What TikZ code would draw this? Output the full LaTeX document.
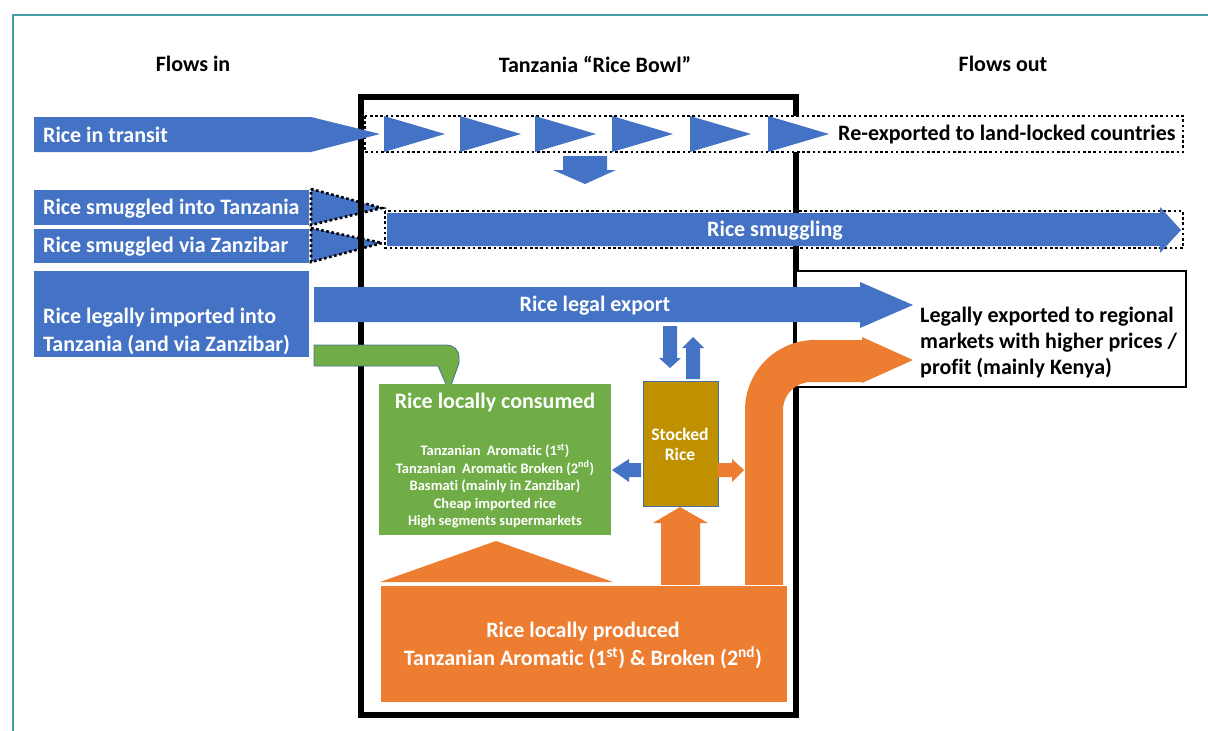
\documentclass[tikz,border=0pt]{standalone}
\usepackage{fontspec}
\setmainfont{Carlito}[Ligatures=NoCommon]
\definecolor{riceblue}{HTML}{4472C4}
\definecolor{riceorange}{HTML}{ED7D31}
\definecolor{ricegreen}{HTML}{70AD47}
\definecolor{ricegold}{HTML}{BF9000}
\definecolor{riceedge}{HTML}{41719C}
\definecolor{frameteal}{HTML}{4A9BA8}
\tikzset{
  lbl/.style={font=\fontsize{22}{28}\selectfont\bfseries, inner sep=0pt},
  wlbl/.style={lbl, text=white},
  dotbox/.style={draw=black, line width=2.6pt, dash pattern=on 2.6pt off 2.6pt},
  edged/.style={draw=riceedge, line width=0.8pt}
}
\begin{document}
\begin{tikzpicture}[x=1pt,y=-1pt]
\useasboundingbox (0,0) rectangle (1208,731);
% frame and headings
\draw[frameteal, line width=2.8pt] (13,731) -- (13,15) -- (1208,15);
\node[lbl] (flowsin) at (193,64) {Flows in};
\node[lbl] (bowl) at (595,64) {Tanzania “Rice Bowl”};
\node[lbl] (flowsout) at (1003,64) {Flows out};
% smuggled in (under the bowl wall)
\fill[riceblue] (34,190) rectangle (309,225);
\fill[riceblue] (34,229) rectangle (309,263);
\draw[dotbox, fill=riceblue] (311,189) -- (382,208) -- (311,225) -- cycle;
\draw[dotbox, fill=riceblue] (311,228) -- (382,243) -- (311,262) -- cycle;
\node[wlbl, anchor=west] (smugtz) at (43,209) {Rice smuggled into Tanzania};
\node[wlbl, anchor=west] (smugzb) at (43,247) {Rice smuggled via Zanzibar};
% the bowl
\draw[line width=6pt] (361,97) rectangle (796,715);
\draw[line width=2pt, fill=white] (796,271) rectangle (1186,387);
\node[lbl, anchor=west, align=left, font=\fontsize{22}{26}\selectfont\bfseries] (legalout) at (920,343)
  {Legally exported to regional\\markets with higher prices /\\profit (mainly Kenya)};
% transit
\draw[dotbox, fill=white] (365,116) rectangle (1183,152);
\foreach \x in {384,460,535,612,690,768}
  \fill[riceblue] (\x,116) -- (\x+61,134) -- (\x,152) -- cycle;
\node[lbl, anchor=west] (reexp) at (838,135) {Re-exported to land-locked countries};
\fill[riceblue] (34,117) -- (311,117) -- (380,134) -- (311,152) -- (34,152) -- cycle;
\node[wlbl, anchor=west] (transit) at (43,135) {Rice in transit};
\fill[riceblue] (563,156) -- (607,156) -- (607,170) -- (616,170) -- (585,184) -- (553,170) -- (563,170) -- cycle;
% smuggling through
\draw[dotbox] (385,211) rectangle (1183,248);
\fill[riceblue] (387,213) -- (1160,213) -- (1160,207) -- (1181,230) -- (1160,253) -- (1160,246) -- (387,246) -- cycle;
\node[wlbl] (smuggling) at (775,231) {Rice smuggling};
% legal imports and exports
\fill[riceblue] (34,271) rectangle (309,357);
\node[wlbl, anchor=west, align=left] (legalin) at (43,331) {Rice legally imported into\\Tanzania (and via Zanzibar)};
\fill[riceblue] (314,287) -- (860,287) -- (860,282) -- (913,305) -- (860,328) -- (860,322) -- (314,322) -- cycle;
\node[wlbl] (legalexp) at (595,306) {Rice legal export};
% local consumption
\draw[edged, fill=ricegreen] (314,345) -- (447,345) arc[start angle=270, end angle=360, radius=12]
  -- (459,363) -- (449,391) -- (438,366) -- (314,366) -- cycle;
\fill[ricegreen] (379,384) rectangle (611,535);
\node[wlbl] (consumed) at (495,403) {Rice locally consumed};
\node[wlbl, align=center, font=\fontsize{14.5}{17.5}\selectfont\bfseries] (segments) at (495,486)
  {Tanzanian\hspace{3pt} Aromatic (1\textsuperscript{st})\\
   Tanzanian\hspace{3pt} Aromatic Broken (2\textsuperscript{nd})\\
   Basmati (mainly in Zanzibar)\\
   Cheap imported rice\\
   High segments supermarkets};
% stock
\draw[edged, fill=ricegold] (643,381) rectangle (718,506);
\node[wlbl, align=center, font=\fontsize{17.6}{20}\selectfont\bfseries] (stock) at (680,444) {Stocked\\Rice};
\fill[riceblue] (663,326) -- (677,326) -- (677,358) -- (681,358) -- (670,368) -- (659,358) -- (663,358) -- cycle;
\fill[riceblue] (686,379) -- (700,379) -- (700,348) -- (704,348) -- (693,337) -- (682,348) -- (686,348) -- cycle;
\fill[riceblue] (641,463) -- (629,463) -- (629,459) -- (612,470) -- (629,482) -- (629,477) -- (641,477) -- cycle;
\fill[riceorange] (718,463) -- (732,463) -- (732,459) -- (744,470) -- (732,482) -- (732,477) -- (718,477) -- cycle;
% local production
\fill[riceorange] (380,582) -- (496,541) -- (613,582) -- cycle;
\fill[riceorange] (661,590) -- (661,523) -- (653,523) -- (680,507) -- (708,523) -- (700,523) -- (700,590) -- cycle;
\fill[riceorange] (745,590) -- (745,410) arc[start angle=180, end angle=270, radius=70]
  -- (862,340) -- (862,337) -- (913,360) -- (862,383) -- (862,382) -- (811,382)
  arc[start angle=270, end angle=180, radius=28] -- (783,590) -- cycle;
\draw[white, line width=1pt, fill=riceorange] (380,585) rectangle (787,702);
\node[wlbl, align=center] (produced) at (583,645)
  {Rice locally produced\\Tanzanian Aromatic (1\textsuperscript{st}) \& Broken (2\textsuperscript{nd})};
\end{tikzpicture}
\end{document}
